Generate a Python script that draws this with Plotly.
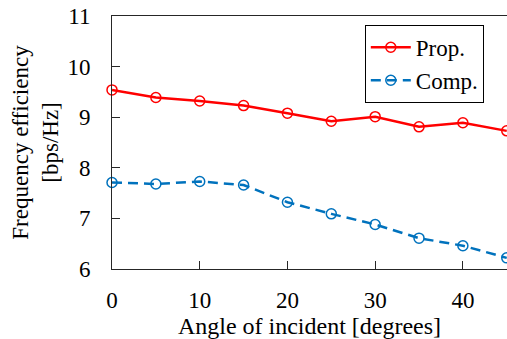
import plotly.graph_objects as go

# Incident angle sweep and spectral efficiency of the two schemes
angles = [0, 5, 10, 15, 20, 25, 30, 35, 40, 45]
prop_eff = [9.54, 9.39, 9.32, 9.23, 9.08, 8.92, 9.01, 8.81, 8.89, 8.73]
comp_eff = [7.71, 7.68, 7.73, 7.66, 7.32, 7.09, 6.88, 6.61, 6.46, 6.22]

x_ticks = [0, 10, 20, 30, 40]
y_ticks = [6, 7, 8, 9, 10, 11]

FONT = "Liberation Serif, Times New Roman, serif"
AXIS_COLOR = "#262626"

fig = go.Figure()
fig.add_trace(go.Scatter(
    x=angles, y=prop_eff, name="Prop.", mode="lines+markers",
    line=dict(color="#ff0000", width=2.5),
    marker=dict(symbol="circle-open", size=10, color="#ff0000", line=dict(width=1.5)),
    cliponaxis=False,
))
fig.add_trace(go.Scatter(
    x=angles, y=comp_eff, name="Comp.", mode="lines+markers",
    line=dict(color="#0072bd", width=2.5, dash="10px,6px"),
    marker=dict(symbol="circle-open", size=10, color="#0072bd", line=dict(width=1.5)),
    cliponaxis=False,
))

fig.update_layout(
    width=507, height=339,
    margin=dict(l=112, r=0, t=16, b=70),
    paper_bgcolor="white", plot_bgcolor="white",
    font=dict(family=FONT, size=23, color="black"),
    showlegend=True,
    legend=dict(
        x=0.64, y=0.965, xanchor="left", yanchor="top",
        bgcolor="white", bordercolor="black", borderwidth=1,
        font=dict(family=FONT, size=23),
        tracegroupgap=0, itemwidth=40,
    ),
    xaxis=dict(
        range=[0, 45.03], tickvals=x_ticks,
        ticks="inside", ticklen=8, tickcolor=AXIS_COLOR, tickwidth=1,
        showline=True, linecolor=AXIS_COLOR, linewidth=1, mirror=True,
        showgrid=False, zeroline=False,
        ticklabelstandoff=10, tickfont=dict(family=FONT, size=23),
        title=dict(text="Angle of incident [degrees]", standoff=0,
                   font=dict(family=FONT, size=24)),
    ),
    yaxis=dict(
        range=[6, 11], tickvals=y_ticks,
        ticks="inside", ticklen=8, tickcolor=AXIS_COLOR, tickwidth=1,
        showline=True, linecolor=AXIS_COLOR, linewidth=1, mirror=False,
        showgrid=False, zeroline=False,
        ticklabelstandoff=16, tickfont=dict(family=FONT, size=23),
        title=dict(text="Frequency efficiency<br>[bps/Hz]", standoff=2,
                   font=dict(family=FONT, size=23)),
    ),
)

fig.write_html("out.html")
